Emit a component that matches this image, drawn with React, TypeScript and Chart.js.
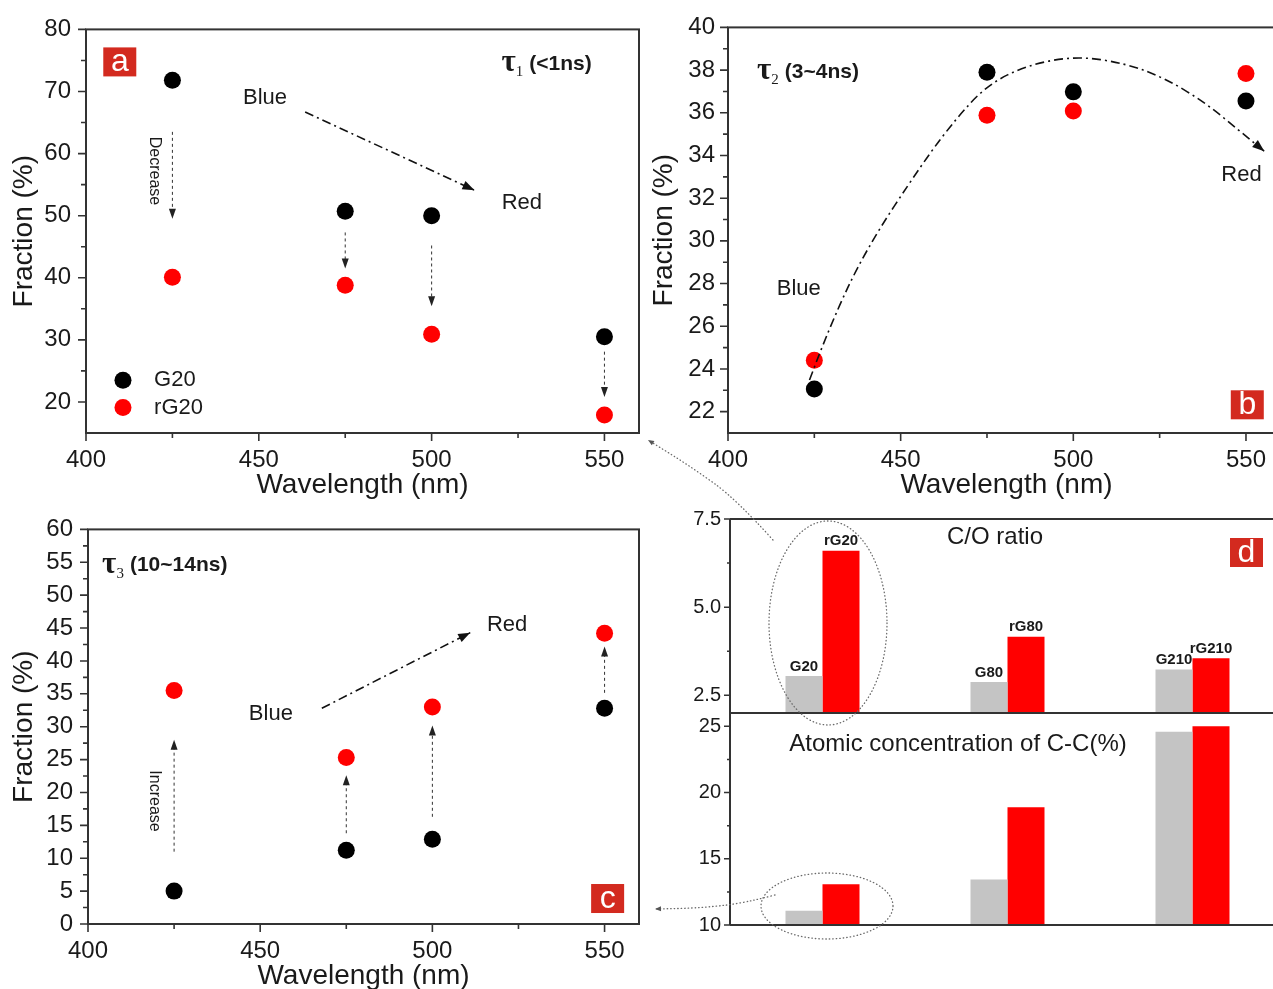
import { useEffect, useRef } from 'react';
import { Chart, registerables } from 'chart.js';

Chart.register(...registerables);

const SANS = "'Liberation Sans', Arial, Helvetica, sans-serif";
const SERIF = "'Liberation Serif', 'Times New Roman', serif";
const TXT = '#1a1a1a';
const AXIS = '#333333';
const BLACK = '#000000';
const RED = '#ff0000';
const GRAY = '#c4c4c4';
const TAGRED = '#d32a1f';

// ---------- data ----------
const seriesNames = ['G20', 'rG20'];
const wavelengths = [425, 475, 500, 550];
const tau1G20 = [71.8, 50.7, 50.0, 30.5];
const tau1rG20 = [40.1, 38.8, 30.9, 17.9];
const tau2G20 = [23.06, 37.9, 36.98, 36.55];
const tau2rG20 = [24.41, 35.88, 36.08, 37.84];
const tau3G20 = [5.0, 11.2, 12.9, 32.8];
const tau3rG20 = [35.5, 25.3, 33.0, 44.2];

const wlTicks = [400, 450, 500, 550];
const wlMinor = [425, 475, 525];
const tau1Ticks = [20, 30, 40, 50, 60, 70, 80];
const tau1Minor = [25, 35, 45, 55, 65, 75];
const tau2Ticks = [22, 24, 26, 28, 30, 32, 34, 36, 38, 40];
const tau2Minor = [23, 25, 27, 29, 31, 33, 35, 37, 39];
const tau3Ticks = [0, 5, 10, 15, 20, 25, 30, 35, 40, 45, 50, 55, 60];
const tau3Minor = [2.5, 7.5, 12.5, 17.5, 22.5, 27.5, 32.5, 37.5, 42.5, 47.5, 52.5, 57.5];

const samples = ['20', '80', '210'];
const barLabelsG = ['G20', 'G80', 'G210'];
const barLabelsR = ['rG20', 'rG80', 'rG210'];
const coRatioG = [3.05, 2.88, 3.23];
const coRatioR = [6.6, 4.16, 3.55];
const ccG = [11.08, 13.43, 24.58];
const ccR = [13.08, 18.88, 25.0];
const coTicks = [2.5, 5.0, 7.5];
const coMinor = [3.75, 6.25];
const ccTicks = [10, 15, 20, 25];
const ccMinor = [12.5, 17.5, 22.5];

// ---------- helpers ----------
type XY = [number, number];

function arrowHead(ctx: CanvasRenderingContext2D, fx: number, fy: number, tx: number, ty: number, len = 9, half = 3.5) {
  const a = Math.atan2(ty - fy, tx - fx);
  const c = Math.cos(a), s = Math.sin(a);
  ctx.save();
  ctx.setLineDash([]);
  ctx.beginPath();
  ctx.moveTo(tx, ty);
  ctx.lineTo(tx - len * c + half * s, ty - len * s - half * c);
  ctx.lineTo(tx - len * c - half * s, ty - len * s + half * c);
  ctx.closePath();
  ctx.fill();
  ctx.restore();
}

function smoothPath(ctx: CanvasRenderingContext2D, pts: XY[]) {
  ctx.beginPath();
  ctx.moveTo(pts[0][0], pts[0][1]);
  if (pts.length === 2) {
    ctx.lineTo(pts[1][0], pts[1][1]);
  } else {
    for (let i = 1; i < pts.length - 1; i++) {
      const mx = (pts[i][0] + pts[i + 1][0]) / 2;
      const my = (pts[i][1] + pts[i + 1][1]) / 2;
      ctx.quadraticCurveTo(pts[i][0], pts[i][1], mx, my);
    }
    const l = pts[pts.length - 1];
    ctx.lineTo(l[0], l[1]);
  }
  ctx.stroke();
}

function drawTag(ctx: CanvasRenderingContext2D, text: string, x: number, y: number) {
  const w = 33, h = 29;
  ctx.save();
  ctx.fillStyle = TAGRED;
  ctx.fillRect(x, y, w, h);
  ctx.fillStyle = '#ffffff';
  ctx.font = `32px ${SANS}`;
  ctx.textAlign = 'center';
  ctx.textBaseline = 'alphabetic';
  ctx.fillText(text, x + w / 2, y + h - 5);
  ctx.restore();
}

interface Decor {
  xMinor: number[];
  yMinor: number[];
  tag: { text: string; at: XY };
  tau: { sub: string; rest: string; at: XY };
  words: { text: string; at: XY }[];
  trend: XY[];
  shifts: { x: number; from: number; to: number }[];
  shiftWord?: { text: string; at: XY };
  legend?: { marker: XY; textX: number }[];
}

const decorA: Decor = {
  xMinor: wlMinor,
  yMinor: tau1Minor,
  tag: { text: 'a', at: [405, 77.1] },
  tau: { sub: '1', rest: '(<1ns)', at: [520.2, 74.4] },
  words: [
    { text: 'Blue', at: [451.8, 68.9] },
    { text: 'Red', at: [526.1, 52.1] },
  ],
  trend: [[463.4, 66.7], [512.4, 54.1]],
  shifts: [
    { x: 425, from: 63.5, to: 49.5 },
    { x: 475, from: 47.3, to: 41.5 },
    { x: 500, from: 45.2, to: 35.4 },
    { x: 550, from: 28.1, to: 20.8 },
  ],
  shiftWord: { text: 'Decrease', at: [419.7, 57.2] },
  legend: [
    { marker: [410.7, 23.5], textX: 419.7 },
    { marker: [410.7, 19.1], textX: 419.7 },
  ],
};

const decorB: Decor = {
  xMinor: wlMinor,
  yMinor: tau2Minor,
  tag: { text: 'b', at: [545.6, 23.0] },
  tau: { sub: '2', rest: '(3~4ns)', at: [408.4, 37.9] },
  words: [
    { text: 'Blue', at: [420.5, 27.75] },
    { text: 'Red', at: [548.7, 33.07] },
  ],
  trend: [
    [423.6, 23.48], [429.5, 26.04], [440.0, 29.62], [456.4, 33.66], [465.8, 35.68],
    [475.1, 37.31], [486.8, 38.24], [500.9, 38.66], [514.9, 38.32], [526.6, 37.62],
    [538.3, 36.46], [547.7, 35.21], [555.3, 34.2],
  ],
  shifts: [],
};

const decorC: Decor = {
  xMinor: wlMinor,
  yMinor: tau3Minor,
  tag: { text: 'c', at: [546.1, 6.08] },
  tau: { sub: '3', rest: '(10~14ns)', at: [404.1, 54.5] },
  words: [
    { text: 'Blue', at: [453.1, 31.9] },
    { text: 'Red', at: [521.7, 45.4] },
  ],
  trend: [[467.9, 32.8], [511.0, 44.3]],
  shifts: [
    { x: 425, from: 11.0, to: 28.0 },
    { x: 475, from: 13.8, to: 22.6 },
    { x: 500, from: 16.3, to: 30.2 },
    { x: 550, from: 35.15, to: 42.2 },
  ],
  shiftWord: { text: 'Increase', at: [419.3, 18.7] },
};

function panelPlugin(d: Decor) {
  return {
    id: 'panelDecor',
    afterDraw(chart: any) {
      const { ctx, chartArea: a } = chart;
      const sx = chart.scales.x, sy = chart.scales.y;
      const X = (v: number) => sx.getPixelForValue(v);
      const Y = (v: number) => sy.getPixelForValue(v);
      ctx.save();
      // frame
      ctx.strokeStyle = AXIS;
      ctx.lineWidth = 2;
      ctx.setLineDash([]);
      ctx.strokeRect(a.left, a.top, a.right - a.left, a.bottom - a.top);
      ctx.lineWidth = 1.6;
      ctx.beginPath();
      sx.ticks.forEach((t: any) => { const p = X(t.value); ctx.moveTo(p, a.bottom); ctx.lineTo(p, a.bottom + 8); });
      d.xMinor.forEach((v) => { const p = X(v); ctx.moveTo(p, a.bottom); ctx.lineTo(p, a.bottom + 5); });
      sy.ticks.forEach((t: any) => { const p = Y(t.value); ctx.moveTo(a.left, p); ctx.lineTo(a.left - 8, p); });
      d.yMinor.forEach((v) => { const p = Y(v); ctx.moveTo(a.left, p); ctx.lineTo(a.left - 5, p); });
      ctx.stroke();

      // tag box
      drawTag(ctx, d.tag.text, X(d.tag.at[0]), Y(d.tag.at[1]));

      // tau label
      const tx = X(d.tau.at[0]), ty = Y(d.tau.at[1]);
      ctx.fillStyle = TXT;
      ctx.textAlign = 'left';
      ctx.textBaseline = 'middle';
      ctx.font = `bold 31px ${SERIF}`;
      ctx.fillText('τ', tx, ty - 1);
      const tw = ctx.measureText('τ').width;
      ctx.font = `15px ${SERIF}`;
      ctx.fillText(d.tau.sub, tx + tw, ty + 8);
      const sw = ctx.measureText(d.tau.sub).width;
      ctx.font = `bold 21px ${SANS}`;
      ctx.fillText(d.tau.rest, tx + tw + sw + 6, ty);

      // words
      ctx.font = `22px ${SANS}`;
      ctx.textAlign = 'center';
      d.words.forEach((w) => ctx.fillText(w.text, X(w.at[0]), Y(w.at[1])));

      // trend arrow (dash-dot)
      const pts: XY[] = d.trend.map((p) => [X(p[0]), Y(p[1])]);
      ctx.strokeStyle = '#111111';
      ctx.fillStyle = '#111111';
      ctx.lineWidth = 1.6;
      ctx.setLineDash([9, 4, 2, 4]);
      smoothPath(ctx, pts);
      const n = pts.length;
      arrowHead(ctx, pts[n - 2][0], pts[n - 2][1], pts[n - 1][0], pts[n - 1][1], 12, 4.5);

      // shift arrows (dashed)
      ctx.strokeStyle = '#333333';
      ctx.fillStyle = '#222222';
      ctx.lineWidth = 1;
      d.shifts.forEach((s) => {
        const px = X(s.x), y0 = Y(s.from), y1 = Y(s.to);
        const dir = y1 > y0 ? 1 : -1;
        ctx.setLineDash([3, 3]);
        ctx.beginPath();
        ctx.moveTo(px, y0);
        ctx.lineTo(px, y1 - dir * 6);
        ctx.stroke();
        arrowHead(ctx, px, y0, px, y1, 10, 3.5);
      });
      ctx.setLineDash([]);

      if (d.shiftWord) {
        ctx.save();
        ctx.translate(X(d.shiftWord.at[0]), Y(d.shiftWord.at[1]));
        ctx.rotate(Math.PI / 2);
        ctx.fillStyle = TXT;
        ctx.font = `16px ${SANS}`;
        ctx.textAlign = 'center';
        ctx.textBaseline = 'middle';
        ctx.fillText(d.shiftWord.text, 0, 0);
        ctx.restore();
      }

      if (d.legend) {
        d.legend.forEach((e, i) => {
          const ds = chart.data.datasets[i];
          ctx.fillStyle = ds.backgroundColor;
          ctx.beginPath();
          ctx.arc(X(e.marker[0]), Y(e.marker[1]), 8.5, 0, Math.PI * 2);
          ctx.fill();
          ctx.fillStyle = TXT;
          ctx.font = `22px ${SANS}`;
          ctx.textAlign = 'left';
          ctx.textBaseline = 'middle';
          ctx.fillText(ds.label, X(e.textX), Y(e.marker[1]));
        });
      }
      ctx.restore();
    },
  };
}

interface PanelOpts {
  g: number[];
  r: number[];
  yMin: number;
  yMax: number;
  yTicks: number[];
  xMax: number;
  padTop: number;
  padRight: number;
  yAxisW: number;
  xAxisH: number;
  yTickPad: number;
  yTitlePad: number;
  decor: Decor;
}

function panelConfig(o: PanelOpts): any {
  const point = { borderWidth: 0, pointRadius: 8.5, pointHoverRadius: 8.5 };
  return {
    type: 'scatter',
    data: {
      datasets: [
        { label: seriesNames[0], data: wavelengths.map((x, i) => ({ x, y: o.g[i] })), backgroundColor: BLACK, ...point },
        { label: seriesNames[1], data: wavelengths.map((x, i) => ({ x, y: o.r[i] })), backgroundColor: RED, ...point },
      ],
    },
    options: {
      animation: false,
      responsive: false,
      events: [],
      layout: { autoPadding: false, padding: { top: o.padTop, right: o.padRight, left: 0, bottom: 0 } },
      plugins: { legend: { display: false }, tooltip: { enabled: false } },
      scales: {
        x: {
          type: 'linear',
          min: 400,
          max: o.xMax,
          afterBuildTicks: (s: any) => { s.ticks = wlTicks.map((value) => ({ value })); },
          afterFit: (s: any) => { s.height = o.xAxisH; },
          grid: { display: false, drawTicks: false },
          border: { display: false },
          ticks: { font: { size: 24, family: SANS }, color: TXT, padding: 13, maxRotation: 0, autoSkip: false },
          title: { display: true, text: 'Wavelength (nm)', font: { size: 28, family: SANS }, color: TXT, padding: { top: 0, bottom: 0 } },
        },
        y: {
          type: 'linear',
          min: o.yMin,
          max: o.yMax,
          afterBuildTicks: (s: any) => { s.ticks = o.yTicks.map((value) => ({ value })); },
          afterFit: (s: any) => { s.width = o.yAxisW; },
          grid: { display: false, drawTicks: false },
          border: { display: false },
          ticks: { font: { size: 24, family: SANS }, color: TXT, padding: o.yTickPad, autoSkip: false },
          title: { display: true, text: 'Fraction (%)', font: { size: 28, family: SANS }, color: TXT, padding: { top: o.yTitlePad, bottom: 0 } },
        },
      },
    },
    plugins: [panelPlugin(o.decor)],
  };
}

const makeA = () => panelConfig({
  g: tau1G20, r: tau1rG20, yMin: 15, yMax: 80, yTicks: tau1Ticks, xMax: 560,
  padTop: 27, padRight: 6, yAxisW: 86, xAxisH: 69, yTickPad: 15, yTitlePad: 7, decor: decorA,
});
const makeB = () => panelConfig({
  g: tau2G20, r: tau2rG20, yMin: 21, yMax: 40, yTicks: tau2Ticks, xMax: 561.3,
  padTop: 24, padRight: 0, yAxisW: 83, xAxisH: 69, yTickPad: 13, yTitlePad: 2, decor: decorB,
});
const makeC = () => panelConfig({
  g: tau3G20, r: tau3rG20, yMin: 0, yMax: 60, yTicks: tau3Ticks, xMax: 560,
  padTop: 16, padRight: 6, yAxisW: 88, xAxisH: 69, yTickPad: 15, yTitlePad: 7, decor: decorC,
});

// ---------- panel d ----------
const D_LEFT = 640;
const D_TOP = 430;
const dEllipses = [
  { cx: 828, cy: 623, rx: 59, ry: 102 },
  { cx: 827, cy: 906, rx: 66, ry: 33 },
];
const dConnectors: XY[][] = [
  [[773, 540], [737, 500], [693, 468], [648, 440]],
  [[775, 895], [745, 903], [700, 908], [655, 909]],
];

const dPlugin = {
  id: 'dDecor',
  afterDraw(chart: any) {
    const { ctx, chartArea: a } = chart;
    const co = chart.scales.yCO, cc = chart.scales.yCC;
    ctx.save();
    ctx.strokeStyle = AXIS;
    ctx.lineWidth = 2;
    ctx.setLineDash([]);
    ctx.beginPath();
    ctx.moveTo(a.left, co.top); ctx.lineTo(a.right, co.top);
    ctx.moveTo(a.left, co.bottom); ctx.lineTo(a.right, co.bottom);
    ctx.moveTo(a.left, a.top); ctx.lineTo(a.left, a.bottom);
    ctx.moveTo(a.left, a.bottom); ctx.lineTo(a.right, a.bottom);
    ctx.stroke();
    ctx.lineWidth = 1.5;
    ctx.beginPath();
    [[co, coMinor], [cc, ccMinor]].forEach(([s, minor]: any) => {
      s.ticks.forEach((t: any) => { const p = s.getPixelForValue(t.value); ctx.moveTo(a.left, p); ctx.lineTo(a.left - 6, p); });
      minor.forEach((v: number) => { const p = s.getPixelForValue(v); ctx.moveTo(a.left, p); ctx.lineTo(a.left - 3, p); });
    });
    ctx.stroke();

    // bar labels on C/O bars
    ctx.fillStyle = TXT;
    ctx.font = `bold 15px ${SANS}`;
    ctx.textAlign = 'center';
    ctx.textBaseline = 'bottom';
    [barLabelsG, barLabelsR].forEach((labels, di) => {
      const meta = chart.getDatasetMeta(di);
      meta.data.forEach((el: any, j: number) => ctx.fillText(labels[j], el.x, el.y - 2));
    });

    // panel titles
    ctx.font = `24px ${SANS}`;
    ctx.textBaseline = 'middle';
    ctx.fillText('C/O ratio', 995 - D_LEFT, 537 - D_TOP);
    ctx.fillText('Atomic concentration of C-C(%)', 958 - D_LEFT, 744 - D_TOP);
    drawTag(ctx, 'd', 1230 - D_LEFT, 538 - D_TOP);

    // dotted ellipses and connectors
    ctx.strokeStyle = '#6a6a6a';
    ctx.fillStyle = '#555555';
    ctx.lineWidth = 1.3;
    ctx.lineCap = 'round';
    ctx.setLineDash([0.5, 3]);
    dEllipses.forEach((e) => {
      ctx.beginPath();
      ctx.ellipse(e.cx - D_LEFT, e.cy - D_TOP, e.rx, e.ry, 0, 0, Math.PI * 2);
      ctx.stroke();
    });
    dConnectors.forEach((c) => {
      const p: XY[] = c.map((q) => [q[0] - D_LEFT, q[1] - D_TOP]);
      smoothPath(ctx, p);
      const n = p.length;
      arrowHead(ctx, p[n - 2][0], p[n - 2][1], p[n - 1][0], p[n - 1][1], 6, 2.5);
    });
    ctx.restore();
  },
};

const makeD = (): any => {
  const bar = { categoryPercentage: 0.4, barPercentage: 1.0, borderWidth: 0 };
  const yCommon = {
    type: 'linear',
    position: 'left',
    stack: 'd',
    stacked: false,
    grid: { display: false, drawTicks: false },
    border: { display: false },
    afterFit: (s: any) => { s.width = 90; },
  };
  return {
    type: 'bar',
    data: {
      labels: samples,
      datasets: [
        { label: 'C/O G', data: coRatioG, backgroundColor: GRAY, yAxisID: 'yCO', stack: 'g', ...bar },
        { label: 'C/O rG', data: coRatioR, backgroundColor: RED, yAxisID: 'yCO', stack: 'r', ...bar },
        { label: 'C-C G', data: ccG, backgroundColor: GRAY, yAxisID: 'yCC', stack: 'g', ...bar },
        { label: 'C-C rG', data: ccR, backgroundColor: RED, yAxisID: 'yCC', stack: 'r', ...bar },
      ],
    },
    options: {
      animation: false,
      responsive: false,
      events: [],
      layout: { autoPadding: false, padding: { top: 89, right: 0, bottom: 64, left: 0 } },
      plugins: { legend: { display: false }, tooltip: { enabled: false } },
      scales: {
        x: { type: 'category', display: false, offset: true },
        yCC: {
          ...yCommon,
          stackWeight: 212,
          min: 10,
          max: 26,
          afterBuildTicks: (s: any) => { s.ticks = ccTicks.map((value) => ({ value })); },
          ticks: { font: { size: 20, family: SANS }, color: TXT, padding: 9, callback: (v: any) => String(v) },
        },
        yCO: {
          ...yCommon,
          stackWeight: 194,
          min: 2,
          max: 7.5,
          afterBuildTicks: (s: any) => { s.ticks = coTicks.map((value) => ({ value })); },
          ticks: { font: { size: 20, family: SANS }, color: TXT, padding: 9, callback: (v: any) => Number(v).toFixed(1) },
        },
      },
    },
    plugins: [dPlugin],
  };
};

function ChartCanvas({ left, top, width, height, make }: { left: number; top: number; width: number; height: number; make: () => any }) {
  const ref = useRef<HTMLCanvasElement>(null);
  useEffect(() => {
    const chart = new Chart(ref.current as HTMLCanvasElement, make());
    return () => chart.destroy();
  }, []);
  return (
    <canvas
      ref={ref}
      width={width}
      height={height}
      style={{ position: 'absolute', left, top, width, height }}
    />
  );
}

export default function App() {
  return (
    <div style={{ position: 'fixed', left: 0, top: 0, width: 1273, height: 989, overflow: 'hidden', background: '#ffffff' }}>
      <ChartCanvas left={0} top={0} width={645} height={502} make={makeA} />
      <ChartCanvas left={645} top={0} width={640} height={502} make={makeB} />
      <ChartCanvas left={0} top={500} width={645} height={493} make={makeC} />
      <ChartCanvas left={D_LEFT} top={D_TOP} width={645} height={559} make={makeD} />
    </div>
  );
}
